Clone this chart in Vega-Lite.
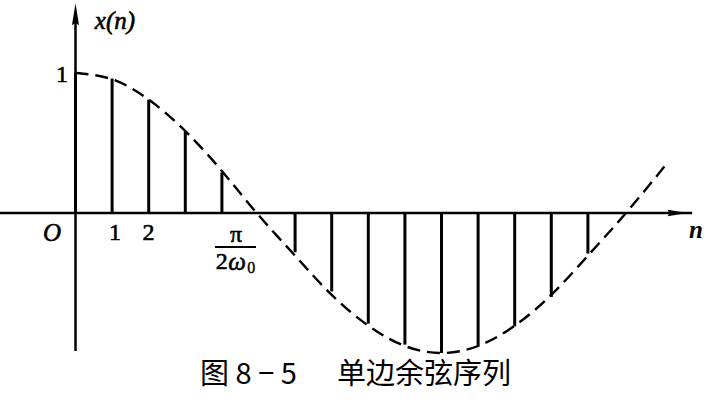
{
  "$schema": "https://vega.github.io/schema/vega-lite/v6.json",
  "width": 713,
  "height": 400,
  "autosize": {"type": "none"},
  "padding": 0,
  "background": "white",
  "config": {"view": {"stroke": null}},
  "datasets": {
    "stems": [
      {"n": 0, "v": 1.0}, {"n": 1, "v": 0.96}, {"n": 2, "v": 0.81}, {"n": 3, "v": 0.58}, {"n": 4, "v": 0.29},
      {"n": 6, "v": -0.28}, {"n": 7, "v": -0.56}, {"n": 8, "v": -0.79}, {"n": 9, "v": -0.94}, {"n": 10, "v": -1.0},
      {"n": 11, "v": -0.955}, {"n": 12, "v": -0.81}, {"n": 13, "v": -0.6}, {"n": 14, "v": -0.29}
    ],
    "curve": [
      {"n": 0, "v": 1.0}, {"n": 1, "v": 0.955}, {"n": 2, "v": 0.81}, {"n": 3, "v": 0.585}, {"n": 4, "v": 0.3},
      {"n": 4.95, "v": 0.0}, {"n": 6, "v": -0.305}, {"n": 7, "v": -0.585}, {"n": 8, "v": -0.805}, {"n": 9, "v": -0.95},
      {"n": 10, "v": -1.0}, {"n": 11, "v": -0.95}, {"n": 12, "v": -0.805}, {"n": 13, "v": -0.585}, {"n": 14, "v": -0.305},
      {"n": 15.04, "v": 0.0}, {"n": 16.1, "v": 0.335}
    ],
    "xaxis": [{"n": -2.07, "n2": 16.85, "v": 0}],
    "yaxis": [{"n": 0, "v": -0.9857, "v2": 1.38}],
    "xarrow": [{"n": 16.45, "v": 0}],
    "yarrow": [{"n": 0, "v": 1.42}],
    "serif": [
      {"n": -0.369, "v": 0.985, "label": "1"},
      {"n": 1.079, "v": -0.143, "label": "1"},
      {"n": 1.995, "v": -0.143, "label": "2"},
      {"n": 4.385, "v": -0.16, "label": "π"},
      {"n": 3.998, "v": -0.35, "label": "2"}
    ],
    "italic": [
      {"n": 1.079, "v": 1.371, "label": "x(n)"},
      {"n": -0.642, "v": -0.143, "label": "O"},
      {"n": 4.413, "v": -0.35, "label": "ω"}
    ],
    "nlabel": [{"n": 16.954, "v": -0.121, "label": "n"}],
    "sub": [{"n": 4.8, "v": -0.39, "label": "0"}],
    "bar": [{"n": 3.811, "n2": 4.932, "v": -0.243}],
    "caption": [
      {"n": 4.727, "v": -1.157, "label": "图 8 − 5"},
      {"n": 9.522, "v": -1.157, "label": "单边余弦序列"}
    ]
  },
  "layer": [
    {
      "data": {"name": "xaxis"},
      "mark": {"type": "rule", "color": "black", "strokeWidth": 2.5},
      "encoding": {
        "x": {"field": "n", "type": "quantitative", "scale": {"domain": [-2.06284, 17.418], "nice": false, "zero": false}, "axis": null},
        "x2": {"field": "n2"},
        "y": {"field": "v", "type": "quantitative", "scale": {"domain": [-1.3357, 1.5214], "nice": false, "zero": false}, "axis": null}
      }
    },
    {
      "data": {"name": "yaxis"},
      "mark": {"type": "rule", "color": "black", "strokeWidth": 2.5},
      "encoding": {
        "x": {"field": "n", "type": "quantitative", "scale": {"domain": [-2.06284, 17.418], "nice": false, "zero": false}, "axis": null},
        "y": {"field": "v", "type": "quantitative", "scale": {"domain": [-1.3357, 1.5214], "nice": false, "zero": false}, "axis": null},
        "y2": {"field": "v2"}
      }
    },
    {
      "data": {"name": "xarrow"},
      "mark": {"type": "point", "filled": true, "color": "black", "opacity": 1, "size": 400, "shape": "M -1 -0.32 L 1 0 L -1 0.32 L -0.8 0 Z"},
      "encoding": {
        "x": {"field": "n", "type": "quantitative", "scale": {"domain": [-2.06284, 17.418], "nice": false, "zero": false}, "axis": null},
        "y": {"field": "v", "type": "quantitative", "scale": {"domain": [-1.3357, 1.5214], "nice": false, "zero": false}, "axis": null}
      }
    },
    {
      "data": {"name": "yarrow"},
      "mark": {"type": "point", "filled": true, "color": "black", "opacity": 1, "size": 484, "shape": "M -0.32 1 L 0 -1 L 0.32 1 L 0 0.8 Z"},
      "encoding": {
        "x": {"field": "n", "type": "quantitative", "scale": {"domain": [-2.06284, 17.418], "nice": false, "zero": false}, "axis": null},
        "y": {"field": "v", "type": "quantitative", "scale": {"domain": [-1.3357, 1.5214], "nice": false, "zero": false}, "axis": null}
      }
    },
    {
      "data": {"name": "stems"},
      "mark": {"type": "rule", "color": "black", "strokeWidth": 3},
      "encoding": {
        "x": {"field": "n", "type": "quantitative", "scale": {"domain": [-2.06284, 17.418], "nice": false, "zero": false}, "axis": null},
        "y": {"field": "v", "type": "quantitative", "scale": {"domain": [-1.3357, 1.5214], "nice": false, "zero": false}, "axis": null},
        "y2": {"datum": 0}
      }
    },
    {
      "data": {"name": "curve"},
      "mark": {"type": "line", "color": "black", "strokeWidth": 2.4, "strokeDash": [13, 7], "interpolate": "natural"},
      "encoding": {
        "x": {"field": "n", "type": "quantitative", "scale": {"domain": [-2.06284, 17.418], "nice": false, "zero": false}, "axis": null},
        "y": {"field": "v", "type": "quantitative", "scale": {"domain": [-1.3357, 1.5214], "nice": false, "zero": false}, "axis": null}
      }
    },
    {
      "data": {"name": "bar"},
      "mark": {"type": "rule", "color": "black", "strokeWidth": 1.8},
      "encoding": {
        "x": {"field": "n", "type": "quantitative", "scale": {"domain": [-2.06284, 17.418], "nice": false, "zero": false}, "axis": null},
        "x2": {"field": "n2"},
        "y": {"field": "v", "type": "quantitative", "scale": {"domain": [-1.3357, 1.5214], "nice": false, "zero": false}, "axis": null}
      }
    },
    {
      "data": {"name": "serif"},
      "mark": {"type": "text", "font": "Liberation Serif", "fontSize": 24, "color": "black", "stroke": "black", "strokeWidth": 0.6, "align": "center", "baseline": "middle"},
      "encoding": {
        "x": {"field": "n", "type": "quantitative", "scale": {"domain": [-2.06284, 17.418], "nice": false, "zero": false}, "axis": null},
        "y": {"field": "v", "type": "quantitative", "scale": {"domain": [-1.3357, 1.5214], "nice": false, "zero": false}, "axis": null},
        "text": {"field": "label"}
      }
    },
    {
      "data": {"name": "italic"},
      "mark": {"type": "text", "font": "Liberation Serif", "fontStyle": "italic", "fontSize": 25, "color": "black", "stroke": "black", "strokeWidth": 0.6, "align": "center", "baseline": "middle"},
      "encoding": {
        "x": {"field": "n", "type": "quantitative", "scale": {"domain": [-2.06284, 17.418], "nice": false, "zero": false}, "axis": null},
        "y": {"field": "v", "type": "quantitative", "scale": {"domain": [-1.3357, 1.5214], "nice": false, "zero": false}, "axis": null},
        "text": {"field": "label"}
      }
    },
    {
      "data": {"name": "nlabel"},
      "mark": {"type": "text", "font": "Liberation Serif", "fontStyle": "italic", "fontWeight": "bold", "fontSize": 25, "color": "black", "align": "center", "baseline": "middle"},
      "encoding": {
        "x": {"field": "n", "type": "quantitative", "scale": {"domain": [-2.06284, 17.418], "nice": false, "zero": false}, "axis": null},
        "y": {"field": "v", "type": "quantitative", "scale": {"domain": [-1.3357, 1.5214], "nice": false, "zero": false}, "axis": null},
        "text": {"field": "label"}
      }
    },
    {
      "data": {"name": "sub"},
      "mark": {"type": "text", "font": "Liberation Serif", "fontSize": 16, "color": "black", "stroke": "black", "strokeWidth": 0.4, "align": "center", "baseline": "middle"},
      "encoding": {
        "x": {"field": "n", "type": "quantitative", "scale": {"domain": [-2.06284, 17.418], "nice": false, "zero": false}, "axis": null},
        "y": {"field": "v", "type": "quantitative", "scale": {"domain": [-1.3357, 1.5214], "nice": false, "zero": false}, "axis": null},
        "text": {"field": "label"}
      }
    },
    {
      "data": {"name": "caption"},
      "mark": {"type": "text", "font": "Noto Sans CJK SC", "fontSize": 29, "color": "black", "align": "center", "baseline": "middle"},
      "encoding": {
        "x": {"field": "n", "type": "quantitative", "scale": {"domain": [-2.06284, 17.418], "nice": false, "zero": false}, "axis": null},
        "y": {"field": "v", "type": "quantitative", "scale": {"domain": [-1.3357, 1.5214], "nice": false, "zero": false}, "axis": null},
        "text": {"field": "label"}
      }
    }
  ]
}
